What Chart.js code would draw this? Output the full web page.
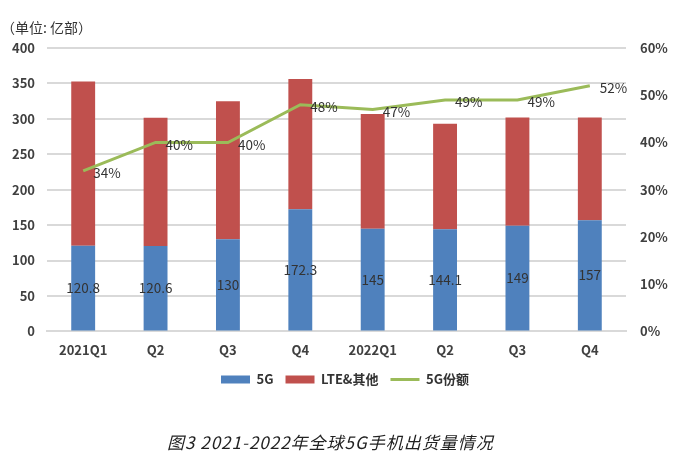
<!DOCTYPE html>
<html lang="zh">
<head>
  <meta charset="UTF-8">
  <title>2021-2022年全球5G手机出货量情况</title>
  <script src="https://cdn.jsdelivr.net/npm/chart.js"></script>
  <style>
    body {
      margin: 0;
      padding: 0;
      background: #fff;
      font-family: "Noto Sans CJK SC", "Noto Sans", sans-serif;
    }
    .wrap {
      position: relative;
      width: 690px;
      height: 462px;
    }
    .unit {
      position: absolute;
      left: 1px;
      top: 17px;
      font-size: 14px;
      color: #333;
    }
    .caption {
      position: absolute;
      left: 167px;
      top: 429px;
      font-size: 17px;
      letter-spacing: 1px;
      font-style: italic;
      color: #222;
    }
  </style>
</head>
<body>
  <div class="wrap">
    <canvas id="chart" width="690" height="462"></canvas>
    <div class="unit">（单位: 亿部）</div>
    <div class="caption">图3 2021-2022年全球5G手机出货量情况</div>
  </div>

  <script>
    const categories = ['2021Q1', 'Q2', 'Q3', 'Q4', '2022Q1', 'Q2', 'Q3', 'Q4'];
    const fiveG = [120.8, 120.6, 130, 172.3, 145, 144.1, 149, 157];
    const lteOther = [232, 181, 195, 184, 162, 149, 153, 145];
    const share5G = [34, 40, 40, 48, 47, 49, 49, 52];

    const FONT = '"Noto Sans CJK SC", "Noto Sans", sans-serif';

    // labels: 5G value in the middle of the blue bar, share % right of each point
    const labelPlugin = {
      id: 'labels',
      afterDatasetsDraw(chart) {
        const ctx = chart.ctx;
        ctx.save();
        ctx.font = '13.5px ' + FONT;
        ctx.fillStyle = '#333';
        ctx.textBaseline = 'middle';

        ctx.textAlign = 'center';
        chart.getDatasetMeta(0).data.forEach((bar, i) => {
          ctx.fillText(String(fiveG[i]), bar.x, (bar.y + bar.base) / 2);
        });

        ctx.textAlign = 'left';
        chart.getDatasetMeta(2).data.forEach((pt, i) => {
          ctx.fillText(share5G[i] + '%', pt.x + 10, pt.y + 2);
        });
        ctx.restore();
      }
    };

    new Chart(document.getElementById('chart').getContext('2d'), {
      type: 'bar',
      data: {
        labels: categories,
        datasets: [
          {
            label: '5G',
            data: fiveG,
            backgroundColor: '#4f81bd',
            stack: 's',
            yAxisID: 'y',
            order: 1,
            pointStyle: 'rect'
          },
          {
            label: 'LTE&其他',
            data: lteOther,
            backgroundColor: '#c0504d',
            stack: 's',
            yAxisID: 'y',
            order: 1,
            pointStyle: 'rect'
          },
          {
            type: 'line',
            label: '5G份额',
            data: share5G,
            borderColor: '#9bbb59',
            backgroundColor: '#9bbb59',
            borderWidth: 3,
            pointRadius: 0,
            pointStyle: 'line',
            tension: 0,
            yAxisID: 'y1',
            order: 0
          }
        ]
      },
      options: {
        responsive: false,
        animation: false,
        layout: {
          padding: { left: 10, right: 10, top: 48, bottom: 66 }
        },
        datasets: {
          bar: { categoryPercentage: 1, barPercentage: 0.33 }
        },
        plugins: {
          legend: {
            position: 'bottom',
            labels: {
              usePointStyle: true,
              pointStyleWidth: 29,
              boxHeight: 8,
              padding: 12,
              color: '#333',
              font: { family: FONT, size: 13, weight: 'bold' },
              sort: (a, b) => a.datasetIndex - b.datasetIndex
            }
          },
          tooltip: { enabled: false }
        },
        scales: {
          x: {
            stacked: true,
            grid: { display: false },
            border: { color: '#d9d9d9', width: 2 },
            ticks: {
              padding: 3,
              color: '#404040',
              font: { family: FONT, size: 13, weight: 'bold' }
            }
          },
          y: {
            stacked: true,
            min: 0,
            max: 400,
            position: 'left',
            grid: { color: '#d9d9d9', lineWidth: 2, drawTicks: false },
            border: { display: false },
            ticks: {
              stepSize: 50,
              padding: 12,
              color: '#404040',
              font: { family: FONT, size: 13, weight: 'bold' }
            },
            afterFit(scale) { scale.width = 37; }
          },
          y1: {
            min: 0,
            max: 60,
            position: 'right',
            grid: { drawOnChartArea: false, drawTicks: false },
            border: { display: false },
            ticks: {
              stepSize: 10,
              padding: 14,
              color: '#404040',
              font: { family: FONT, size: 13, weight: 'bold' },
              callback: v => v + '%'
            },
            afterFit(scale) { scale.width = 54; }
          }
        }
      },
      plugins: [labelPlugin]
    });
  </script>
</body>
</html>
